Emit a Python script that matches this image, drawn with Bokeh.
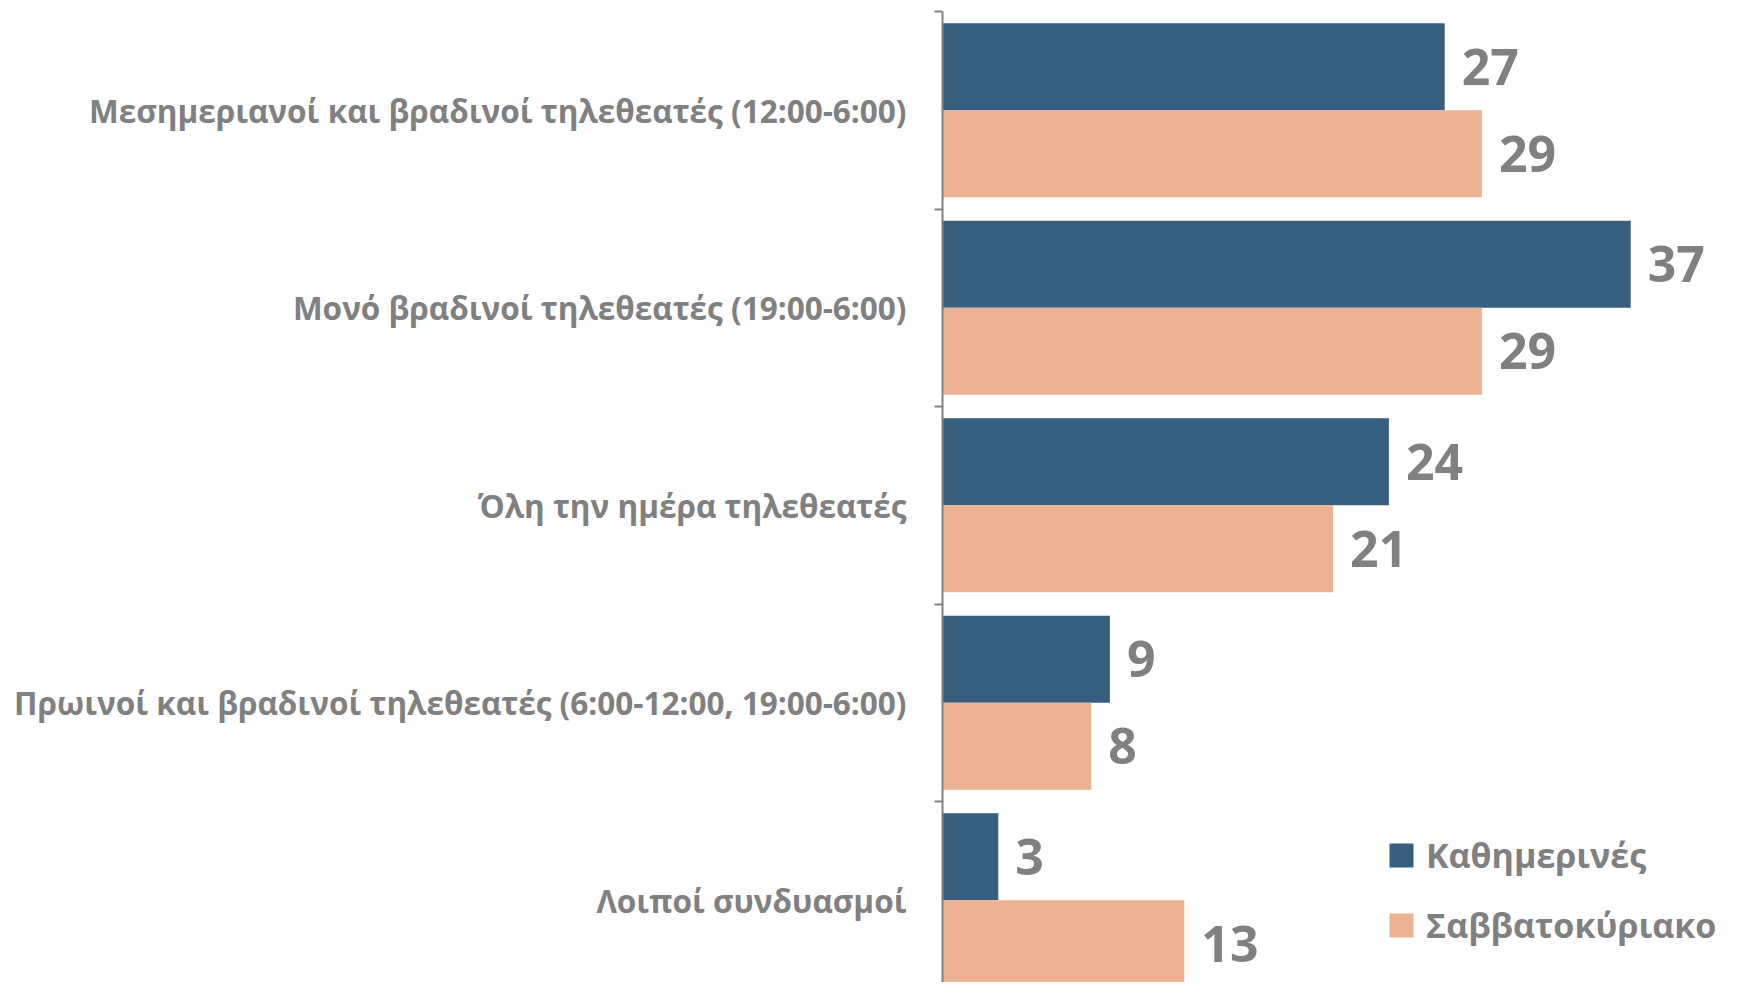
from bokeh.plotting import figure
from bokeh.models import ColumnDataSource, Range1d, FixedTicker, Legend, LegendItem
from bokeh.transform import dodge
from bokeh.core.properties import value
from bokeh.embed import file_html
from bokeh.resources import INLINE

categories = [
    "Μεσημεριανοί και βραδινοί τηλεθεατές (12:00-6:00)",
    "Μονό βραδινοί τηλεθεατές (19:00-6:00)",
    "Όλη την ημέρα τηλεθεατές",
    "Πρωινοί και βραδινοί τηλεθεατές (6:00-12:00, 19:00-6:00)",
    "Λοιποί συνδυασμοί",
]
weekdays = [27, 37, 24, 9, 3]
weekend = [29, 29, 21, 8, 13]
series_names = ["Καθημερινές", "Σαββατοκύριακο"]

BLUE = "#365E7E"
ORANGE = "#ECB192"
GRAY = "#808080"
FONT = "Open Sans"

n = len(categories)
pos = [n - i - 0.5 for i in range(n)]
src = ColumnDataSource(dict(
    pos=pos, cat=categories, wd=weekdays, we=weekend,
    wd_s=[str(v) for v in weekdays], we_s=[str(v) for v in weekend],
))

W, H = 1728, 982
left = 942
top = 11
frame_h = H - top
slot = 197.5
px_per_unit = 18.6
frame_w = W - left

p = figure(width=W, height=H, output_backend="svg", toolbar_location=None,
           x_range=Range1d(0, frame_w / px_per_unit),
           y_range=Range1d(n - frame_h / slot, n),
           min_border_left=left, min_border_top=top, min_border_bottom=0,
           min_border_right=0)
p.outline_line_color = None
p.grid.visible = False
p.xaxis.visible = False

bh = 0.44
r1 = p.hbar(y=dodge("pos", bh / 2, range=p.y_range), right="wd", left=0, height=bh,
            source=src, fill_color=BLUE, line_color=None)
r2 = p.hbar(y=dodge("pos", -bh / 2, range=p.y_range), right="we", left=0, height=bh,
            source=src, fill_color=ORANGE, line_color=None)

for col, lab, off in (("wd", "wd_s", bh / 2), ("we", "we_s", -bh / 2)):
    p.text(x=col, y=dodge("pos", off, range=p.y_range), text=lab, source=src,
           x_offset=17, text_baseline="middle", text_align="left",
           text_font=value(FONT), text_font_style="bold",
           text_font_size="50px", text_color=GRAY)

ax = p.yaxis[0]
ax.ticker = FixedTicker(ticks=pos, minor_ticks=list(range(n + 1)))
ax.major_label_overrides = {pp: c for pp, c in zip(pos, categories)}
ax.major_tick_out = 0
ax.major_tick_in = 0
ax.minor_tick_out = 8
ax.minor_tick_in = 0
ax.minor_tick_line_color = GRAY
ax.minor_tick_line_width = 2
ax.axis_line_color = GRAY
ax.axis_line_width = 2
ax.major_label_standoff = 28
ax.major_label_text_font = FONT
ax.major_label_text_font_style = "bold"
ax.major_label_text_font_size = "31.5px"
ax.major_label_text_color = GRAY

legend = Legend(items=[LegendItem(label=series_names[0], renderers=[r1]),
                       LegendItem(label=series_names[1], renderers=[r2])],
                location=(444, 34), orientation="vertical",
                glyph_width=30, glyph_height=30, label_standoff=10,
                spacing=24, padding=0, margin=0,
                border_line_color=None, background_fill_alpha=0,
                label_text_font=FONT, label_text_font_style="bold",
                label_text_font_size="34px", label_text_color=GRAY)
p.add_layout(legend)

open("out.html", "w").write(file_html(p, INLINE))
